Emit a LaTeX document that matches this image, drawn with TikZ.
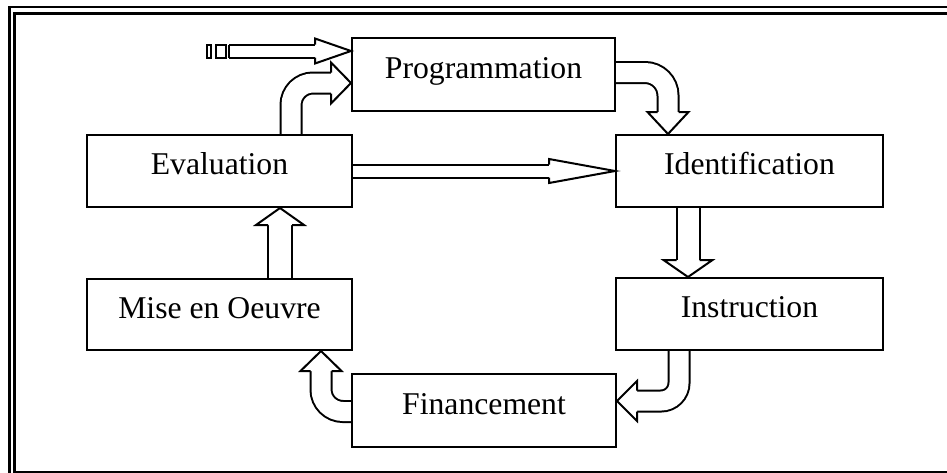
\documentclass[tikz,border=0pt]{standalone}
\usepackage{fontspec}
\setmainfont{Liberation Serif}
\usetikzlibrary{calc}
\pgfdeclarelayer{back}
\pgfsetlayers{back,main}

% Hollow block-arrow head: tip, direction, length, half width, half shaft width
\newcommand{\blockhead}[5]{%
  \begin{scope}[shift={(#1)},rotate=#2]
    \fill[white] (0,0) -- (-#3,#4) -- (-#3,-#4) -- cycle;
    \draw[outline,line join=miter] (-#3,#5) -- (-#3,#4) -- (0,0) -- (-#3,-#4) -- (-#3,-#5);
  \end{scope}}

\begin{document}
\begin{tikzpicture}[x=1pt,y=-1pt,line width=2pt,
  outline/.style={draw,line width=2pt},
  stage/.style={draw,line width=2pt,inner sep=0pt,minimum width=265pt,minimum height=72pt,
    font=\fontsize{31.7}{38}\selectfont,text height=21pt,text depth=14pt},
  shaft/.style={line width=2pt,double=white,double distance=#1pt}]
\useasboundingbox (0,0) rectangle (947,472);
\clip (0,0) rectangle (947,472);

% double outer frame
\draw[line width=2.8pt] (9.5,7) rectangle (1000,1000);
\draw[line width=2.2pt] (14.5,13.5) rectangle (1000,472);

% stages of the cycle
\node[stage,minimum width=263pt,minimum height=73pt] (prog) at (483.5,74.5) {Programmation};
\node[stage,minimum width=267pt] (ident) at (749.5,171) {Identification};
\node[stage,minimum width=267pt] (instr) at (749.5,314) {Instruction};
\node[stage,minimum width=264pt,minimum height=73pt] (fin) at (484,410.5) {Financement};
\node[stage] (eval) at (219.5,171) {Evaluation};
\node[stage,minimum height=71pt] (mise) at (219.5,314.5) {Mise en Oeuvre};

% anchor points of the block arrows
\coordinate (tip1) at ($(prog.west)+(0,-23.5)$);
\coordinate (s2) at ($(eval.north)+(71.5,0)$);
\coordinate (tip2) at ($(prog.west)+(0,8.5)$);
\coordinate (s3) at ($(prog.east)+(0,-2)$);
\coordinate (tip3) at ($(ident.north)+(-81.5,0)$);
\coordinate (s5) at ($(ident.south)+(-61.5,0)$);
\coordinate (tip5) at ($(instr.north)+(-61.5,0)$);
\coordinate (s6) at ($(instr.south)+(-70.5,0)$);
\coordinate (tip6) at ($(fin.east)+(0,-9.5)$);
\coordinate (s7) at ($(fin.west)+(0,1)$);
\coordinate (tip7) at ($(mise.south)+(101.5,0)$);
\coordinate (s8) at ($(mise.north)+(60.5,0)$);
\coordinate (tip8) at ($(eval.south)+(60.5,0)$);

\begin{pgfonlayer}{back}
\begin{scope}[line width=2pt]
  % striped entry arrow into Programmation
  \draw[shaft=11] ($(tip1)+(-122,0)$) -- ($(tip1)+(-36,0)$);
  \draw[outline] ($(tip1)+(-122,-6.5)$) -- ($(tip1)+(-122,6.5)$);
  \draw[outline] ($(tip1)+(-144,-6.5)$) rectangle ($(tip1)+(-140,6.5)$);
  \draw[outline] ($(tip1)+(-135,-6.5)$) rectangle ($(tip1)+(-125,6.5)$);
  \blockhead{tip1}{0}{36}{12.5}{6.5}

  % Evaluation -> Programmation
  \draw[shaft=19,rounded corners=22pt] (s2) |- ($(tip2)+(-20,0)$);
  \blockhead{tip2}{0}{20}{20.5}{10.5}

  % Programmation -> Identification
  \draw[shaft=19,rounded corners=23pt] (s3) -| ($(tip3)+(0,-22)$);
  \blockhead{tip3}{-90}{22}{20.5}{10.5}

  % Evaluation -> Identification
  \draw[shaft=11] (eval.east) -- ($(ident.west)+(-66,0)$);
  \blockhead{ident.west}{0}{66}{12}{6.5}

  % Identification -> Instruction
  \draw[shaft=21] (s5) -- ($(tip5)+(0,-17)$);
  \blockhead{tip5}{-90}{17}{24.5}{11.5}

  % Instruction -> Financement
  \draw[shaft=19,rounded corners=18pt] (s6) |- ($(tip6)+(20,0)$);
  \blockhead{tip6}{180}{20}{20}{10.5}

  % Financement -> Mise en Oeuvre
  \draw[shaft=19,rounded corners=22pt] (s7) -| ($(tip7)+(0,20)$);
  \blockhead{tip7}{90}{20}{20.5}{10.5}

  % Mise en Oeuvre -> Evaluation
  \draw[shaft=22] (s8) -- ($(tip8)+(0,17)$);
  \blockhead{tip8}{90}{17}{24}{12}
\end{scope}
\end{pgfonlayer}
\end{tikzpicture}
\end{document}
